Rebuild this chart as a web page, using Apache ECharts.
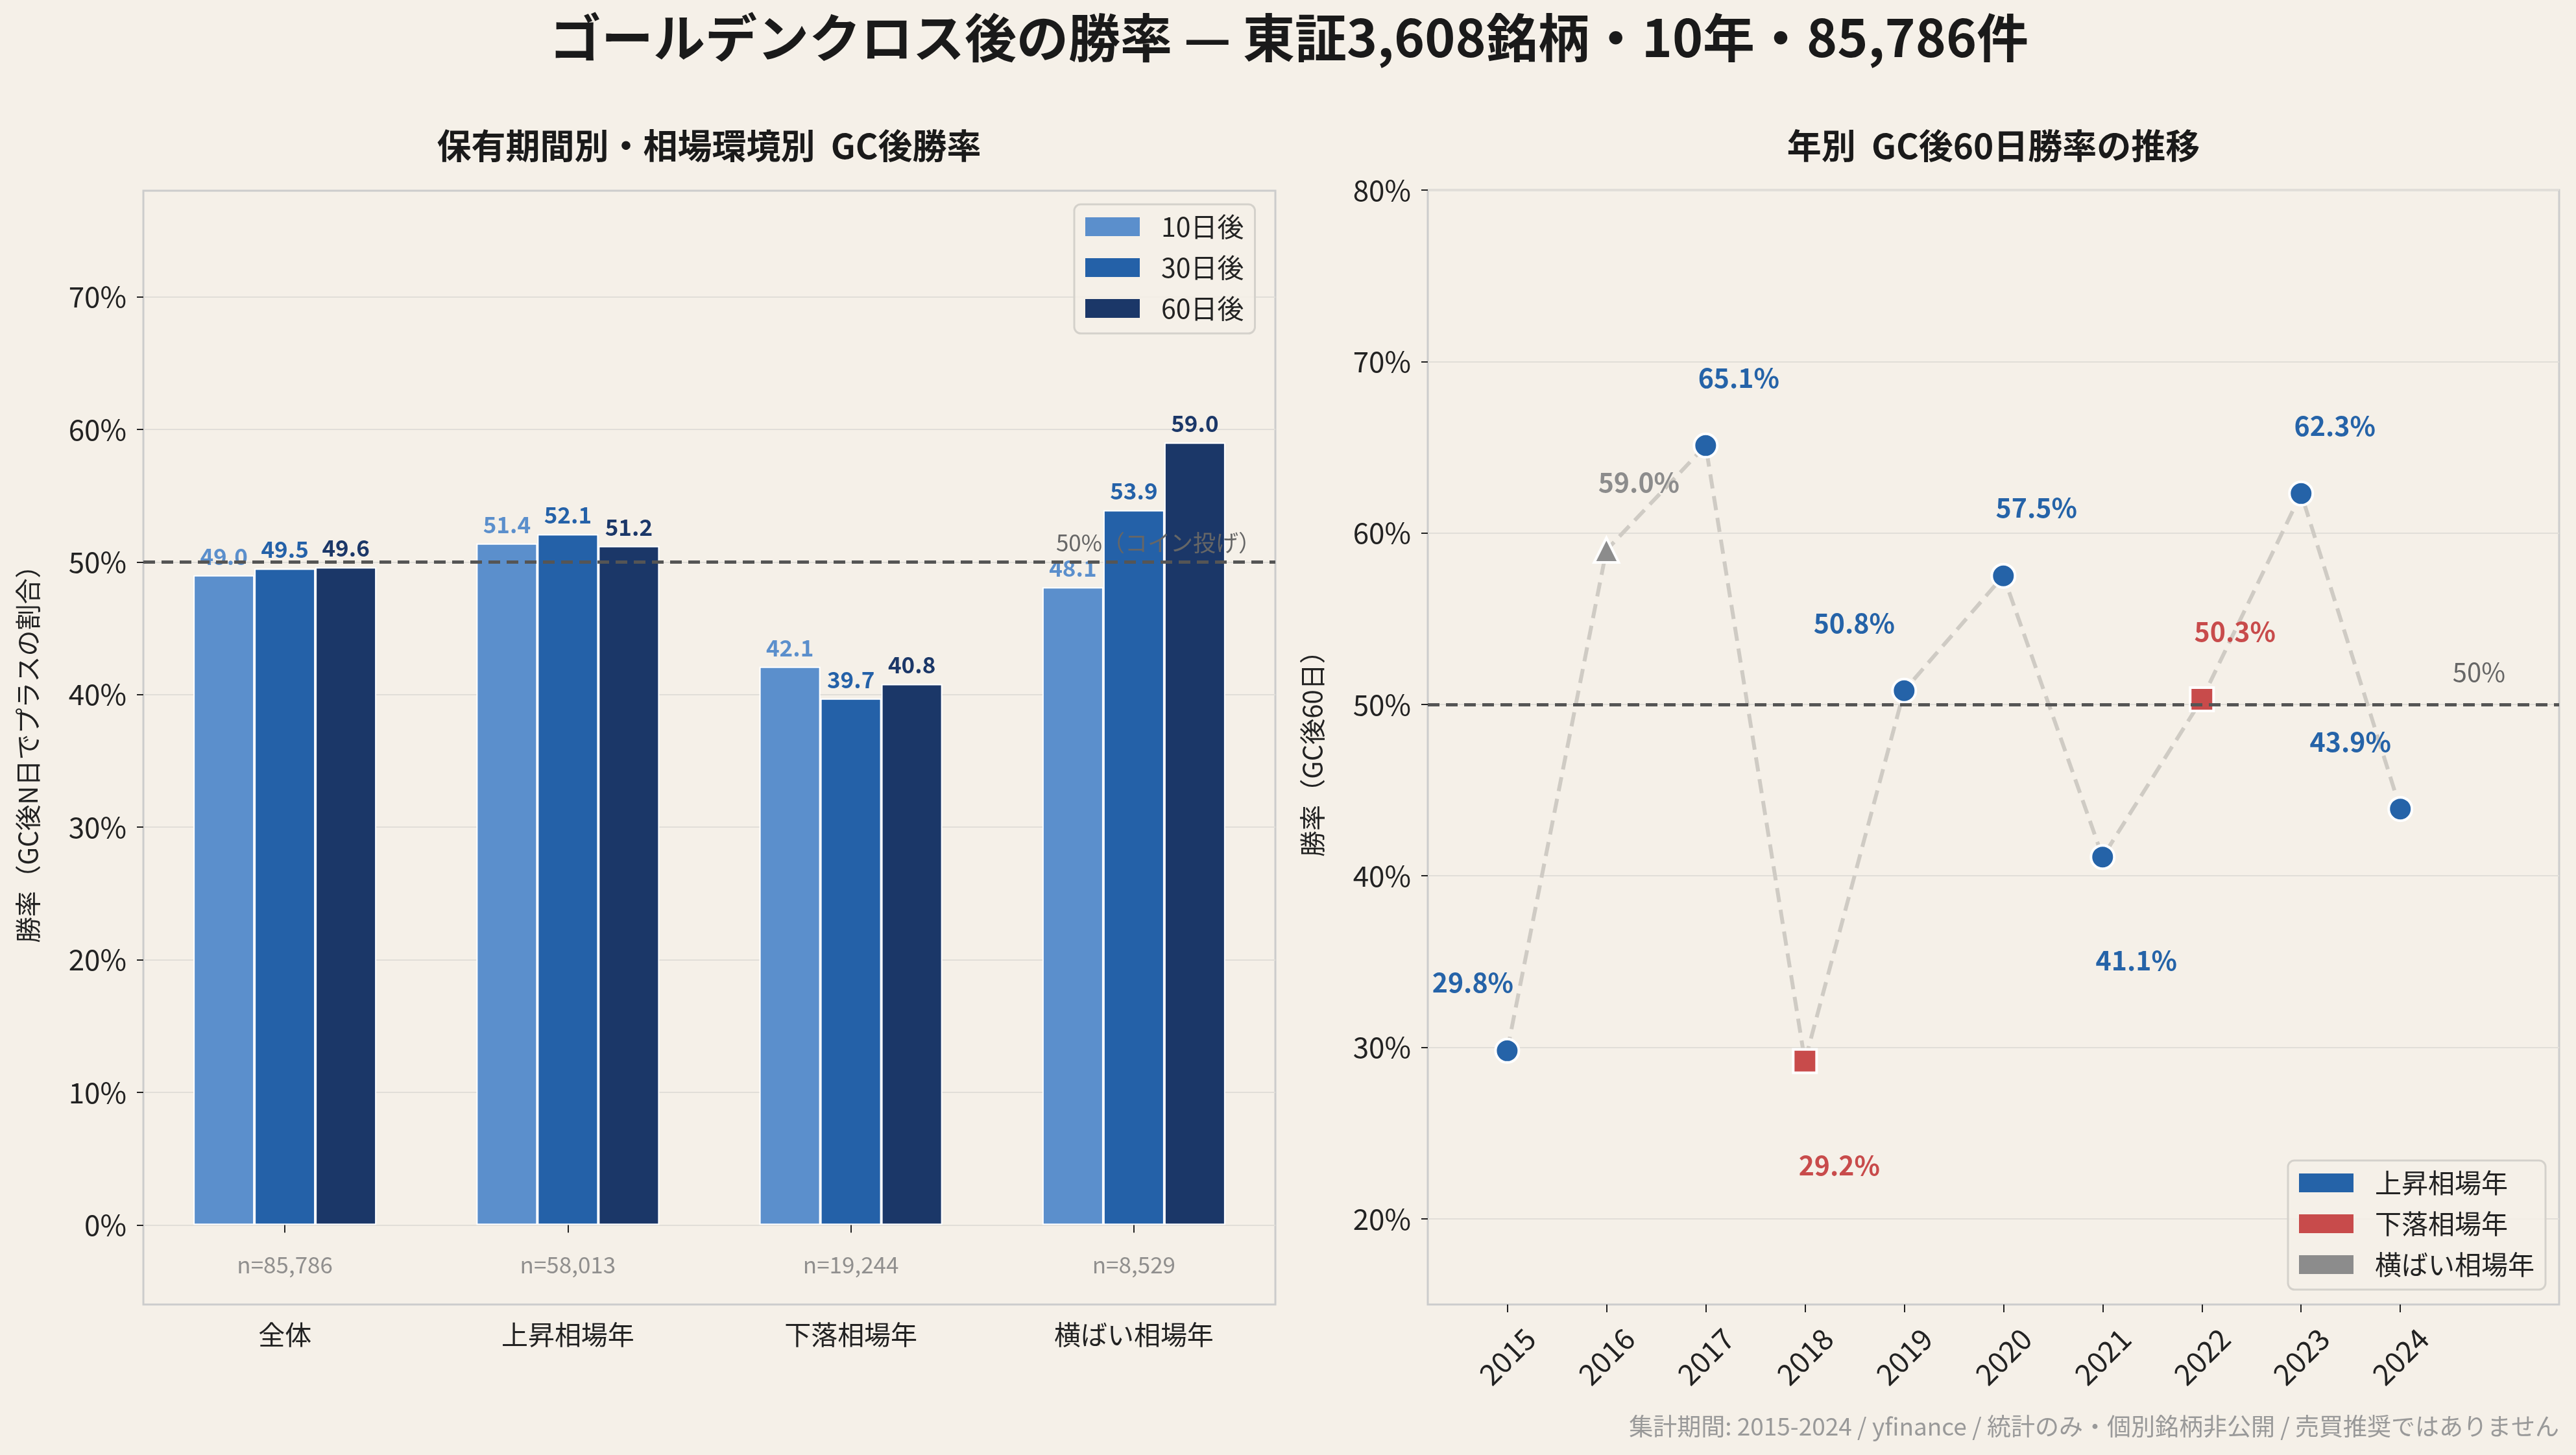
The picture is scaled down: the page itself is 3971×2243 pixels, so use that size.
<!DOCTYPE html>
<html><head><meta charset="utf-8">
<script src="https://cdn.jsdelivr.net/npm/echarts@6/dist/echarts.min.js"></script>
<style>html,body{margin:0;padding:0;background:#f5f0e8;} #c{width:3971px;height:2243px;}</style>
</head><body><div id="c"></div>
<script>
// ---------- DATA ----------
const categories = ['全体', '上昇相場年', '下落相場年', '横ばい相場年'];
const holdNames = ['10日後', '30日後', '60日後'];
const win10 = [49.0, 51.4, 42.1, 48.1];
const win30 = [49.5, 52.1, 39.7, 53.9];
const win60 = [49.6, 51.2, 40.8, 59.0];
const sampleCounts = [85786, 58013, 19244, 8529];
const leftYTicks = [0, 10, 20, 30, 40, 50, 60, 70];

const years = [2015, 2016, 2017, 2018, 2019, 2020, 2021, 2022, 2023, 2024];
const win60ByYear = [29.8, 59.0, 65.1, 29.2, 50.8, 57.5, 41.1, 50.3, 62.3, 43.9];
const regimeByYear = ['上昇相場年', '横ばい相場年', '上昇相場年', '下落相場年', '上昇相場年',
                      '上昇相場年', '上昇相場年', '下落相場年', '上昇相場年', '上昇相場年'];
const regimeNames = ['上昇相場年', '下落相場年', '横ばい相場年'];
const rightYTicks = [20, 30, 40, 50, 60, 70, 80];
const coinLine = 50;

// ---------- STYLE ----------
const FONT = '"Noto Sans CJK JP", "Noto Sans", sans-serif';
const BG = '#f5f0e8';
const barColors = ['#5b8fcc', '#2461a8', '#1b3768'];
const regimeStyle = {
  '上昇相場年': { color: '#2563a8', symbol: 'circle', size: 36 },
  '下落相場年': { color: '#c84b4b', symbol: 'rect', size: 36 },
  '横ばい相場年': { color: '#8c8c8c', symbol: 'triangle', size: 38 }
};
const labelOffsetByYear = {
  2015: [-53, -105], 2016: [50, -105], 2017: [51, -104], 2018: [53, 161], 2019: [-77, -104],
  2020: [51, -105], 2021: [52, 159], 2022: [51, -105], 2023: [52, -104], 2024: [-77, -104]
};
const N_LABEL_Y = -3;

const chart = echarts.init(document.getElementById('c'), null, { renderer: 'canvas' });

const barData = [win10, win30, win60];
const series = [];
barData.forEach((arr, i) => {
  series.push({
    type: 'bar', name: holdNames[i], xAxisIndex: 0, yAxisIndex: 0,
    data: arr, barWidth: 94, barGap: '0%', z: 2,
    itemStyle: { color: barColors[i], borderColor: '#ffffff', borderWidth: 2 },
    label: { show: true, position: 'top', distance: 12, formatter: p => p.value.toFixed(1),
      color: barColors[i], fontWeight: 'bold', fontSize: 35, fontFamily: FONT }
  });
});
// 50% line (left)
series.push({
  type: 'line', xAxisIndex: 0, yAxisIndex: 0, data: [], z: 5,
  markLine: { silent: true, symbol: 'none', data: [{ yAxis: coinLine }],
    lineStyle: { type: [18, 10], color: '#555555', width: 5 },
    label: { show: true, position: 'insideEndTop', formatter: '50%（コイン投げ）', color: '#666666',
      fontSize: 35, fontFamily: FONT, distance: [22, 12] } }
});
// n labels
series.push({
  type: 'scatter', xAxisIndex: 0, yAxisIndex: 0, symbolSize: 0, silent: true,
  data: sampleCounts.map((n, i) => ({ value: [i, N_LABEL_Y],
    label: { formatter: 'n=' + n.toLocaleString('en-US') } })),
  label: { show: true, position: 'inside', color: '#777777', fontSize: 35, fontFamily: FONT }
});

// right: connecting line
series.push({
  type: 'line', xAxisIndex: 1, yAxisIndex: 1, z: 2, symbol: 'none', silent: true,
  data: years.map((y, i) => [y, win60ByYear[i]]),
  lineStyle: { color: '#cfcbc4', width: 6, type: [22, 12] },
  markLine: { silent: true, symbol: 'none', data: [{ yAxis: coinLine }],
    lineStyle: { type: [18, 10], color: '#555555', width: 5 },
    label: { show: true, position: 'insideEndTop', formatter: '50%', color: '#666666',
      fontSize: 40, fontFamily: FONT, distance: [83, 30] } }
});
regimeNames.forEach(r => {
  const st = regimeStyle[r];
  series.push({
    type: 'scatter', name: r, xAxisIndex: 1, yAxisIndex: 1, z: 4,
    symbol: st.symbol, symbolSize: st.size,
    itemStyle: { color: st.color, borderColor: '#ffffff', borderWidth: 4, opacity: 1 },
    data: years.map((y, i) => ({ y, i })).filter(o => regimeByYear[o.i] === r).map(o => ({
      value: [o.y, win60ByYear[o.i]],
      label: { offset: labelOffsetByYear[o.y] }
    })),
    label: { show: true, position: 'inside', formatter: p => p.value[1].toFixed(1) + '%',
      color: st.color, fontWeight: 'bold', fontSize: 41, fontFamily: FONT }
  });
});

const legendCommon = {
  orient: 'vertical', icon: 'rect', itemWidth: 84, itemHeight: 29, itemGap: 22,
  textStyle: { fontSize: 41, lineHeight: 41, color: '#222222', fontFamily: FONT, padding: [0, 0, 0, 28] },
  backgroundColor: 'rgba(245,240,232,0.85)', borderColor: '#d4d1cb', borderWidth: 3, borderRadius: 10,
  padding: [14, 17, 18, 17], itemStyle: { borderWidth: 0, opacity: 1 }
};

const axisLabelStyle = { color: '#222222', fontFamily: FONT };

chart.setOption({
  backgroundColor: BG,
  animation: false,
  textStyle: { fontFamily: FONT },
  grid: [
    { left: 221, top: 294, width: 1745, height: 1717, show: true, borderColor: '#cccccc', borderWidth: 3, backgroundColor: 'transparent' },
    { left: 2201, top: 293, width: 1744, height: 1718, show: true, borderColor: '#cccccc', borderWidth: 3, backgroundColor: 'transparent' }
  ],
  xAxis: [
    { type: 'category', gridIndex: 0, data: categories,
      axisLine: { show: false },
      axisTick: { show: true, alignWithLabel: true, length: 12, lineStyle: { color: '#222', width: 2 } },
      axisLabel: Object.assign({ fontSize: 41, margin: 26 }, axisLabelStyle),
      splitLine: { show: false } },
    { type: 'value', gridIndex: 1, min: 2014.2, max: 2025.6,
      axisLine: { show: false },
      axisTick: { show: true, customValues: years, length: 12, lineStyle: { color: '#222', width: 2 } },
      axisLabel: Object.assign({ customValues: years, rotate: 45, fontSize: 45, margin: 80,
        align: 'center', verticalAlign: 'middle', formatter: v => String(v) }, axisLabelStyle),
      splitLine: { show: false } }
  ],
  yAxis: [
    { type: 'value', gridIndex: 0, min: -6, max: 78, splitNumber: 8,
      name: '勝率（GC後N日でプラスの割合）', nameLocation: 'middle', nameGap: 158,
      nameTextStyle: { fontSize: 40, color: '#222', fontFamily: FONT },
      axisLine: { show: false },
      axisTick: { show: true, customValues: leftYTicks, length: 10, lineStyle: { color: '#222', width: 2 } },
      axisLabel: Object.assign({ customValues: leftYTicks, fontSize: 44, margin: 26, formatter: v => v + '%' }, axisLabelStyle),
      splitLine: { show: true, lineStyle: { color: '#e1ded8', width: 2 } } },
    { type: 'value', gridIndex: 1, min: 15, max: 80, splitNumber: 6,
      name: '勝率（GC後60日）', nameLocation: 'middle', nameGap: 158,
      nameTextStyle: { fontSize: 40, color: '#222', fontFamily: FONT },
      axisLine: { show: false },
      axisTick: { show: true, customValues: rightYTicks, length: 10, lineStyle: { color: '#222', width: 2 } },
      axisLabel: Object.assign({ customValues: rightYTicks, fontSize: 44, margin: 26, formatter: v => v + '%' }, axisLabelStyle),
      splitLine: { show: true, lineStyle: { color: '#e1ded8', width: 2 } } }
  ],
  legend: [
    Object.assign({ data: holdNames, left: 1656, top: 315 }, legendCommon),
    Object.assign({ data: regimeNames, left: 3527, top: 1789 }, legendCommon)
  ],
  graphic: [
    { type: 'text', x: 1987, y: 58, style: { text: 'ゴールデンクロス後の勝率 — 東証3,608銘柄・10年・85,786件',
      fill: '#1a1a1a', fontSize: 80, fontWeight: 'bold', fontFamily: FONT, align: 'center', verticalAlign: 'middle' } },
    { type: 'text', x: 1093, y: 225, style: { text: '保有期間別・相場環境別  GC後勝率',
      fill: '#1a1a1a', fontSize: 53, fontWeight: 'bold', fontFamily: FONT, align: 'center', verticalAlign: 'middle' } },
    { type: 'text', x: 3073, y: 225, style: { text: '年別  GC後60日勝率の推移',
      fill: '#1a1a1a', fontSize: 53, fontWeight: 'bold', fontFamily: FONT, align: 'center', verticalAlign: 'middle' } },
    { type: 'text', x: 3945, y: 2199, style: { text: '集計期間: 2015-2024 / yfinance / 統計のみ・個別銘柄非公開 / 売買推奨ではありません',
      fill: '#999999', fontSize: 37, fontFamily: FONT, align: 'right', verticalAlign: 'middle' } }
  ],
  series: series
});
</script>
</body></html>
